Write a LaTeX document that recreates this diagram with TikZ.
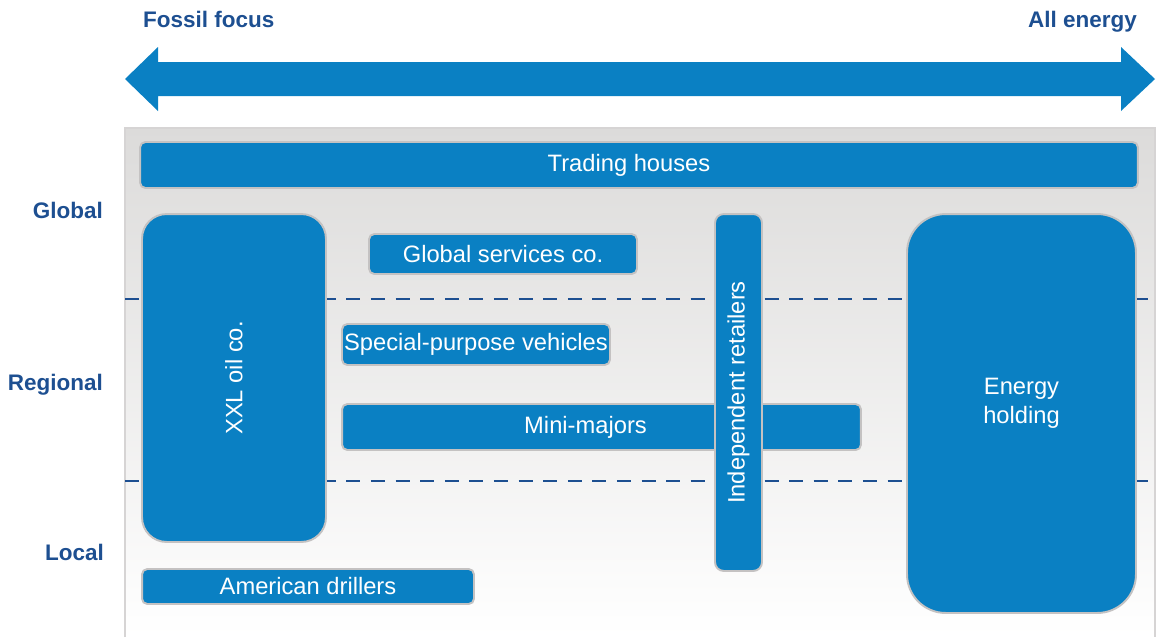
\documentclass[tikz,border=0pt]{standalone}
\usepackage{fontspec}
\setmainfont{Liberation Sans}
\definecolor{boxblue}{HTML}{0A80C3}
\definecolor{labelblue}{HTML}{1D4F91}
\definecolor{panelgray}{HTML}{DCDBDA}
\definecolor{edgegray}{HTML}{C4C2C2}

\begin{document}
\begin{tikzpicture}[x=0.02cm,y=-0.02cm,
   player/.style={fill=boxblue,draw=edgegray,line width=1.1pt,rounded corners=3pt,
                  text=white,inner sep=0pt,font=\fontsize{13.5}{16.5}\selectfont},
   level/.style={text=labelblue,anchor=east,font=\bfseries\fontsize{12.8}{15}\selectfont},
   divider/.style={labelblue,line width=1.2pt,dash pattern=on 8pt off 6pt}]
   \useasboundingbox (0,0) rectangle (1157,637);
   % panel
   \shade[top color=panelgray,bottom color=white] (125,128) rectangle (1155,637);
   \draw[edgegray!70,line width=0.8pt] (125,637) -- (125,128) -- (1155,128) -- (1155,637);
   % scope arrow
   \fill[boxblue] (125,79) -- (158,47) -- (158,62) -- (1121,62) -- (1121,47) -- (1155,79)
      -- (1121,111) -- (1121,96) -- (158,96) -- (158,111) -- cycle;
   \node[level,anchor=west] (fossil) at (137,19) {Fossil focus};
   \node[level] (allen) at (1143,22) {All energy};
   % levels
   \node[level] (glob) at (109,210) {Global};
   \node[level] (reg) at (109,385) {Regional};
   \node[level] (loc) at (110,552) {Local};
   \coordinate (d1a) at (125,299);
   \coordinate (d1b) at (1148,299);
   \coordinate (d2a) at (125,481);
   \coordinate (d2b) at (1148,481);
   \draw[divider] (d1a) -- (d1b);
   \draw[divider] (d2a) -- (d2b);
   % players
   \node[player,minimum width=19.96cm,minimum height=0.92cm] (trade) at (639,165) {\hspace*{-0.4cm}Trading houses};
   \node[player,rotate=90,rounded corners=14pt,minimum width=6.56cm,minimum height=3.68cm] (xxl) at (234,378) {XXL oil co.};
   \node[player,minimum width=5.36cm,minimum height=0.8cm] (gserv) at (503,254) {Global services co.};
   \node[player,minimum width=5.36cm,minimum height=0.82cm] (spv) at (476,344.5) {Special-purpose vehicles};
   \node[player,minimum width=10.38cm,minimum height=0.92cm] (mini) at (601.5,427) {\hspace*{-0.64cm}Mini-majors};
   \node[player,rotate=90,rounded corners=5pt,minimum width=7.14cm,minimum height=0.94cm] (retail) at (738.5,392.5) {Independent retailers};
   \node[player,rounded corners=22pt,minimum width=4.58cm,minimum height=7.98cm,
         label={[white,align=center,yshift=0.2cm,font=\fontsize{13.5}{16.5}\selectfont]center:Energy\\holding}] (hold) at (1021.5,413.5) {};
   \node[player,minimum width=6.64cm,minimum height=0.7cm] (drill) at (308,586.5) {American drillers};
\end{tikzpicture}
\end{document}
